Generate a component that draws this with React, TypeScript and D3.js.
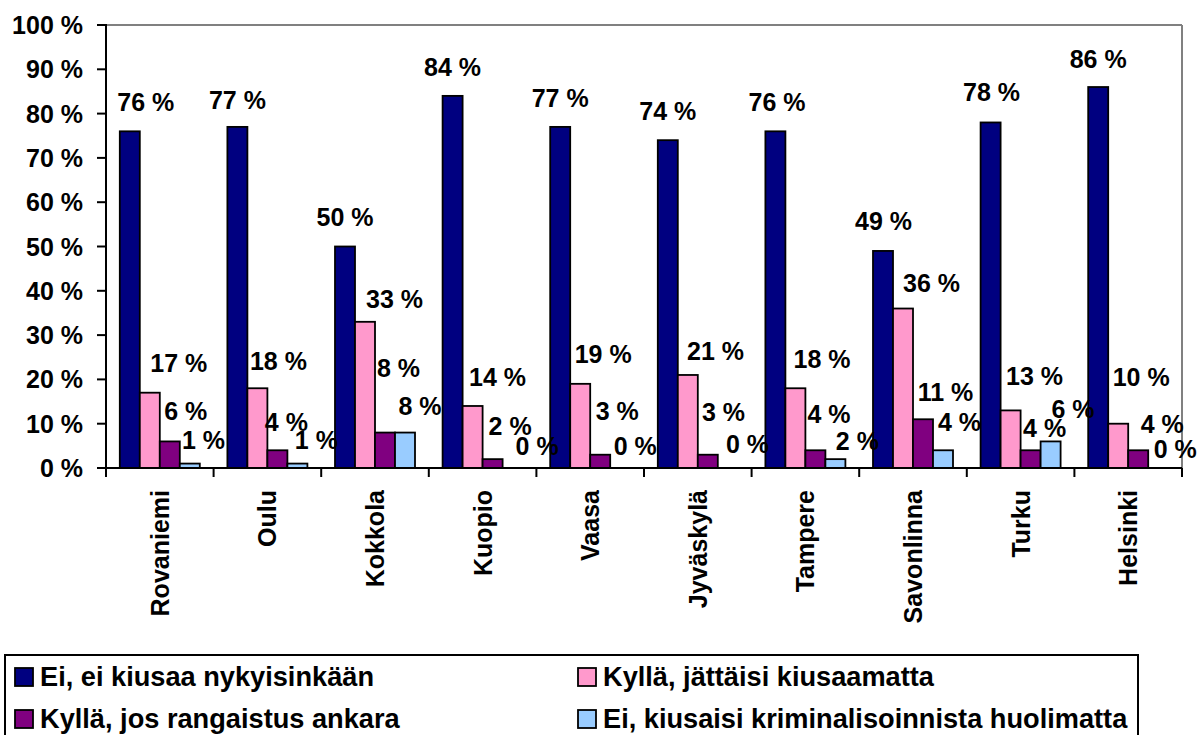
import React from "react";
import * as d3 from "d3";

const categories = ["Rovaniemi", "Oulu", "Kokkola", "Kuopio", "Vaasa", "Jyväskylä", "Tampere", "Savonlinna", "Turku", "Helsinki"];
const seriesNames = [
  "Ei, ei kiusaa nykyisinkään",
  "Kyllä, jättäisi kiusaamatta",
  "Kyllä, jos rangaistus ankara",
  "Ei, kiusaisi kriminalisoinnista huolimatta",
];
const eiKiusaa = [76, 77, 50, 84, 77, 74, 76, 49, 78, 86];
const jattaisi = [17, 18, 33, 14, 19, 21, 18, 36, 13, 10];
const rangaistus = [6, 4, 8, 2, 3, 3, 4, 11, 4, 4];
const kriminalisointi = [1, 1, 8, 0, 0, 0, 2, 4, 6, 0];
const yTicks = [0, 10, 20, 30, 40, 50, 60, 70, 80, 90, 100];

const seriesValues = [eiKiusaa, jattaisi, rangaistus, kriminalisointi];
const colors = ["#000080", "#FF99CC", "#800080", "#99CCFF"];

// manual data-label placement (offset of label centre from bar centre / bar top)
const labelDx = [
  [16, 0, 0, 0, 0, 0, 1.6, 0.5, 1, 0],
  [29, 21, 29.5, 25, 23, 27.7, 26.6, 28.5, 24, 23],
  [16, 9, 13.5, 17.5, 17, 15.7, 13.6, 22.5, 14, 24],
  [13.7, 19, 15, 24.5, 15, 19.7, 22, 16.5, 22.4, 17],
];
const labelDy = [
  [-29, -27, -30, -28.5, -29, -29, -29, -30, -30, -28],
  [-29.5, -27, -23, -29, -30, -23.5, -29, -26, -34, -47],
  [-30, -28, -65, -33, -44, -43, -36, -27, -22, -26],
  [-23.6, -24, -27, -22, -22, -24, -18, -28, -32, -19],
];

const W = 1198;
const H = 735;
const left = 106;
const right = 1182;
const top = 25;
const bottom = 468;
const font = "'Liberation Sans', Arial, sans-serif";

export default function App() {
  const x = d3.scaleBand<string>().domain(categories).range([left, right]).padding(0);
  const inner = d3
    .scaleBand<number>()
    .domain([0, 1, 2, 3])
    .range([0, x.bandwidth()])
    .paddingInner(0)
    .paddingOuter(0.69);
  const y = d3.scaleLinear().domain([0, 100]).range([bottom, top]);

  return (
    <svg
      width={W}
      height={H}
      style={{ position: "absolute", left: 0, top: 0, background: "#fff" }}
      fontFamily={font}
      fontWeight="bold"
    >
      <rect x={0} y={0} width={W} height={H} fill="#fff" />
      {/* plot border top/right */}
      <line x1={left} x2={right} y1={top} y2={top} stroke="#808080" strokeWidth={2} />
      <line x1={right} x2={right} y1={top} y2={bottom} stroke="#808080" strokeWidth={2} />

      {/* bars */}
      {seriesValues.map((vals, s) =>
        vals.map((v, i) => {
          if (v <= 0) return null;
          const bx = (x(categories[i]) as number) + (inner(s) as number);
          return (
            <rect
              key={`b${s}-${i}`}
              x={bx}
              y={y(v)}
              width={inner.bandwidth()}
              height={y(0) - y(v)}
              fill={colors[s]}
              stroke="#000"
              strokeWidth={1.8}
            />
          );
        })
      )}

      {/* axes */}
      <line x1={left} x2={left} y1={top - 1} y2={bottom} stroke="#000" strokeWidth={2} />
      <line x1={left - 1} x2={right} y1={bottom} y2={bottom} stroke="#000" strokeWidth={2} />
      {yTicks.map((t) => (
        <g key={`yt${t}`}>
          <line x1={left - 9} x2={left} y1={y(t)} y2={y(t)} stroke="#000" strokeWidth={2} />
          <text x={83} y={y(t)} dy="0.36em" textAnchor="end" fontSize={25}>
            {`${t} %`}
          </text>
        </g>
      ))}
      {categories.map((c, i) => (
        <line
          key={`xt${i}`}
          x1={x(c) as number}
          x2={x(c) as number}
          y1={bottom}
          y2={bottom + 9}
          stroke="#000"
          strokeWidth={2}
        />
      ))}
      <line x1={right} x2={right} y1={bottom} y2={bottom + 9} stroke="#000" strokeWidth={2} />
      {categories.map((c) => {
        const cx = (x(c) as number) + x.bandwidth() / 2;
        return (
          <text
            key={`cl${c}`}
            transform={`translate(${cx},490) rotate(-90)`}
            textAnchor="end"
            dy="0.36em"
            fontSize={25}
          >
            {c}
          </text>
        );
      })}

      {/* data labels */}
      {seriesValues.map((vals, s) =>
        vals.map((v, i) => {
          const cx = (x(categories[i]) as number) + (inner(s) as number) + inner.bandwidth() / 2;
          return (
            <text
              key={`l${s}-${i}`}
              x={cx + labelDx[s][i]}
              y={y(v) + labelDy[s][i]}
              dy="0.36em"
              textAnchor="middle"
              fontSize={25}
            >
              {`${v} %`}
            </text>
          );
        })
      )}

      {/* legend */}
      <rect x={5} y={655} width={1133} height={90} fill="#fff" stroke="#000" strokeWidth={2} />
      {seriesNames.map((n, s) => {
        const col = s % 2;
        const row = Math.floor(s / 2);
        const mx = col === 0 ? 15 : 578;
        const my = row === 0 ? 668 : 710;
        return (
          <g key={`lg${s}`}>
            <rect x={mx} y={my} width={18} height={18} fill={colors[s]} stroke="#000" strokeWidth={1.8} />
            <text x={mx + 25} y={my + 18} fontSize={27.2}>
              {n}
            </text>
          </g>
        );
      })}
    </svg>
  );
}
